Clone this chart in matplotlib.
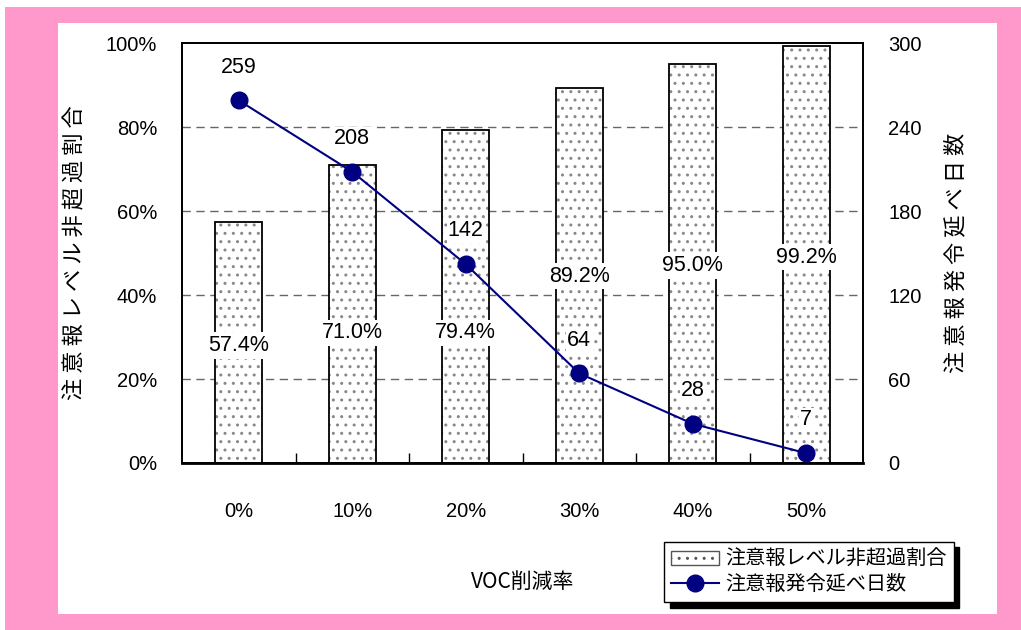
import matplotlib
matplotlib.use("Agg")
import matplotlib.pyplot as plt
import matplotlib.patches as mpatches
import numpy as np

plt.rcParams["font.family"] = ["Liberation Sans Narrow", "Liberation Sans", "Noto Sans CJK JP", "DejaVu Sans"]
JP = ["Noto Sans CJK JP", "DejaVu Sans"]

categories = ["0%", "10%", "20%", "30%", "40%", "50%"]
ratio_pct = [57.4, 71.0, 79.4, 89.2, 95.0, 99.2]
days = [259, 208, 142, 64, 28, 7]
left_ticks = [0, 20, 40, 60, 80, 100]
right_ticks = [0, 60, 120, 180, 240, 300]

# where the percent labels sit inside the bars (left-axis units)
pct_label_y = [28, 31, 31, 44.5, 47, 49]

PINK = "#ff99cc"
NAVY = "#000080"

fig = plt.figure(figsize=(10.21, 6.30), dpi=100)
fig.patches.append(mpatches.Rectangle((5 / 1021, 0), 1, 1 - 7 / 630, transform=fig.transFigure,
                                      facecolor=PINK, edgecolor="none", zorder=-10))
fig.patches.append(mpatches.Rectangle((58 / 1021, 16 / 630), (997 - 58) / 1021, (614 - 23) / 630,
                                      transform=fig.transFigure, facecolor="white",
                                      edgecolor="none", zorder=-9))

ax = fig.add_axes([182 / 1021, 1 - 463 / 630, 681 / 1021, 420 / 630])
ax.set_facecolor("none")
x = np.arange(len(categories))

# bars: grey dotted fill, black outline drawn separately
ax.bar(x, ratio_pct, width=0.41, facecolor="white", edgecolor="#888888", hatch="..",
       linewidth=0, zorder=2)
ax.bar(x, ratio_pct, width=0.41, facecolor="none", edgecolor="black", linewidth=1.3, zorder=3)

ax.set_xlim(-0.5, len(categories) - 0.5)
ax.set_ylim(0, 100)
ax.set_yticks(left_ticks)
ax.set_yticklabels([f"{t}%" for t in left_ticks], fontsize=14.5)
ax.tick_params(axis="y", length=0, pad=18)
ax.set_xticks(x)
ax.set_xticklabels(categories, fontsize=14.5)
ax.tick_params(axis="x", length=0, pad=28)
ax.set_xticks(np.arange(len(categories) - 1) + 0.5, minor=True)
ax.tick_params(axis="x", which="minor", direction="in", length=7, width=1)
for t in left_ticks[1:-1]:
    ax.axhline(t, color="#666666", linestyle=(0, (6, 4)), linewidth=1, zorder=1)
for s in ax.spines.values():
    s.set_linewidth(1.3)
ax.spines["bottom"].set_linewidth(2)

for i, (v, ly) in enumerate(zip(ratio_pct, pct_label_y)):
    ax.text(i, ly, f"{v:.1f}%", ha="center", va="center", fontsize=15.5, zorder=6,
            bbox=dict(facecolor="white", edgecolor="none", pad=2))

ax.set_ylabel("注 意 報 レ ベ ル 非 超 過 割 合", family=JP, fontsize=16)
ax.yaxis.set_label_coords(-0.141, 0.5)
ax.set_xlabel("VOC削減率", family=JP, fontsize=15, labelpad=36)

ax2 = ax.twinx()
ax2.set_ylim(0, 300)
ax2.set_yticks(right_ticks)
ax2.set_yticklabels([str(t) for t in right_ticks], fontsize=14.5)
ax2.tick_params(axis="y", length=0, pad=18)
ax2.plot(x, days, color=NAVY, linewidth=1.5, marker="o", markersize=12, zorder=5)
for i, d in enumerate(days):
    ax2.annotate(str(d), (i, d), xytext=(0, 24), textcoords="offset points", ha="center",
                 va="center", fontsize=15.5, zorder=6,
                 bbox=dict(facecolor="white", edgecolor="none", pad=1))
ax2.set_ylabel("注 意 報 発 令 延 べ 日 数", family=JP, fontsize=16, rotation=90)
ax2.yaxis.set_label_coords(1.12, 0.5)
for s in ax2.spines.values():
    s.set_linewidth(1.3)

bar_handle = mpatches.Patch(facecolor="white", edgecolor="#555555", hatch="..", linewidth=1)
line_handle = plt.Line2D([], [], color=NAVY, linewidth=1.5, marker="o", markersize=12)
leg = fig.legend([bar_handle, line_handle], ["注意報レベル非超過割合", "注意報発令延べ日数"],
                 loc="center", bbox_to_anchor=(809 / 1021, 1 - 572 / 630),
                 prop={"family": JP, "size": 14.5}, frameon=True, fancybox=False,
                 edgecolor="black", framealpha=1, borderpad=0.35, handlelength=2.4,
                 labelspacing=0.2, handletextpad=0.3,
                 shadow={"color": "black", "alpha": 1, "ox": 4, "oy": -4})
leg.get_frame().set_linewidth(1)

fig.savefig("out.png", dpi=100)
